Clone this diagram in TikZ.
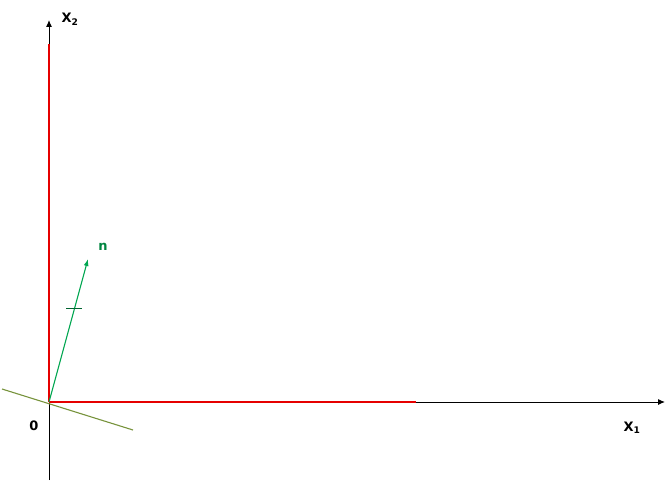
\documentclass[tikz,border=0pt]{standalone}
\usepackage{fontspec}
\setmainfont{DejaVu Sans}
\usetikzlibrary{arrows.meta}
\usetikzlibrary{positioning}

\definecolor{axisred}{RGB}{230,0,0}
\definecolor{normalgreen}{RGB}{0,166,80}
\definecolor{planeolive}{RGB}{119,147,60}

\tikzset{
  axis/.style={draw=black,line width=1pt,-{Latex[length=7pt,width=6pt]}},
  redpart/.style={draw=axisred,line width=1.8pt},
  normalvec/.style={draw=normalgreen,line width=1.1pt,-{Latex[length=7pt,width=5pt]}},
  plane/.style={draw=planeolive,line width=1.1pt},
  lbl/.style={font=\fontsize{13}{15}\selectfont\bfseries,inner sep=0pt}
}

\begin{document}
\begin{tikzpicture}[x=1pt,y=-1pt]
            \useasboundingbox (0,0) rectangle (668,481);
            % points
            \coordinate (o) at (49,402);
            \coordinate (xend) at (665,402);
            \coordinate (ybot) at (49,480);
            \coordinate (yend) at (49,20);
            \coordinate (redx) at (416,402);
            \coordinate (redy) at (49,44);
            \coordinate (ntip) at (88,259);
            \coordinate (pa) at (2,389);
            \coordinate (pb) at (133,430);
            \coordinate (ta) at (66,308);
            \coordinate (tb) at (82,308);
            % axes
            \draw[axis] (o) -- (xend);
            \draw[axis] (ybot) -- (yend);
            \draw[redpart] (o) -- (redx);
            \draw[redpart] (o) -- (redy);
            % plane and normal
            \draw[plane] (pa) -- (pb);
            \draw[normalvec] (o) -- (ntip);
            \draw[draw=normalgreen!60!black,line width=0.8pt] (ta) -- (tb);
            % labels
            \node[lbl] (lx2) at (70,19) {X$_\mathbf{2}$};
            \node[lbl] (lx1) at (632,428) {X$_\mathbf{1}$};
            \node[lbl] (lo) at (34,426) {0};
            \node[lbl,text=normalgreen!80!black] (ln) at (103,247) {n};
\end{tikzpicture}
\end{document}
